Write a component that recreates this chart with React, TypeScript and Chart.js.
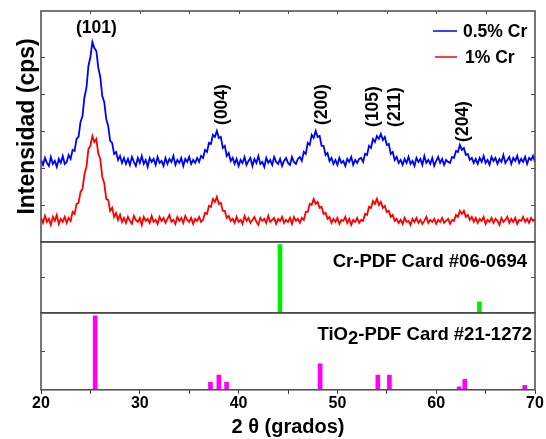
import React, { useEffect, useRef } from 'react';
import { Chart, registerables } from 'chart.js';

Chart.register(...registerables);

// Scan grid (2θ, degrees)
const TWO_THETA_START = 20;
const TWO_THETA_STEP = 0.2;

// Intensity (arbitrary units), one value per scan step
const CR05_COUNTS = [
  82, 77, 84, 79, 76, 85, 78, 81, 75, 83, 79, 86, 78,
  80, 87, 83, 92, 91, 103, 105, 120, 126, 145, 154, 176, 185, 200, 194, 191, 174, 165, 146, 140, 123, 116, 101, 99, 88, 90, 82, 86, 79,
  84, 78, 83, 77, 85, 80, 76, 84, 79, 86, 78, 82, 75, 84, 80, 83, 77, 85, 79, 81, 76, 84, 78, 83, 80, 86, 77, 82, 79, 84, 76, 83, 80, 85, 78, 82, 79, 84,
  80, 86, 84, 92, 90, 99, 98, 107, 105, 111, 104, 105, 94, 96, 86, 89, 81, 84,
  78, 83, 76, 82, 79, 85, 77, 81, 84, 76, 83, 79, 86, 78, 80, 75, 84, 79, 82, 77, 85, 80, 78, 83, 76, 81, 84, 79, 77, 85, 80, 78, 83,
  85, 81, 90, 88, 99, 97, 107, 104, 111, 105, 106, 96, 96, 87, 89, 81, 84,
  78, 82, 77, 84, 79, 81, 76, 83, 80, 85, 77, 82, 79, 83,
  84, 80, 88, 87, 96, 94, 103, 100, 106, 103, 108, 102, 105, 97, 98, 88, 90, 82, 85, 79,
  82, 77, 83, 79, 85, 78, 81, 76, 84, 80, 83, 77, 86, 79, 82, 78, 84, 76, 81, 85, 79, 83, 77, 82, 80,
  79, 85, 84, 91, 90, 97, 92, 94, 87, 88, 82, 84, 79,
  83, 78, 84, 80, 86, 79, 82, 77, 85, 81, 84, 78, 83, 80, 87, 79, 82, 85, 78, 84, 81, 86, 79, 83, 80, 85, 78, 84, 82, 86, 80,
];

const CR1_COUNTS = [
  24, 19, 26, 20, 23, 17, 25, 21, 27, 18, 23, 20, 25, 19, 24,
  21, 30, 28, 38, 39, 50, 53, 68, 75, 93, 96, 106, 100, 103, 88, 83, 65, 59, 43, 42, 31, 34, 25, 29, 22, 27, 20,
  24, 19, 25, 21, 18, 26, 22, 20, 24, 17, 25, 21, 23, 19, 26, 20, 22, 18, 25, 21, 24, 19, 23, 27, 20, 22, 18, 25, 21, 24, 19, 26, 22, 20, 24, 18, 23, 21, 25, 20,
  22, 29, 28, 36, 35, 43, 40, 45, 38, 39, 31, 31, 24, 26, 21,
  23, 19, 25, 20, 22, 18, 26, 21, 24, 19, 22, 25, 20, 17, 24, 21, 23, 19, 26, 20, 22, 24, 18, 23, 21, 25, 19, 22, 20, 24, 18, 25, 21, 23, 19, 24,
  22, 30, 30, 38, 37, 43, 38, 40, 34, 35, 28, 29, 23, 25,
  19, 23, 20, 24, 18, 22, 21, 25, 19, 23, 17, 22, 20, 24, 19, 22,
  21, 28, 27, 35, 34, 41, 38, 43, 37, 40, 34, 36, 30, 31, 25, 27, 21,
  23, 19, 22, 18, 24, 20, 21, 17, 23, 20, 24, 19, 22, 18, 21, 25, 19, 22, 20, 23, 18, 22, 20, 24, 19, 21, 23, 18, 22,
  21, 27, 25, 31, 28, 31, 25, 27, 22, 25,
  20, 24, 19, 23, 21, 25, 18, 22, 20, 24, 19, 23, 21, 17, 24, 20, 22, 25, 19, 23, 20, 24, 18, 22, 21, 25, 20, 23, 19, 24, 21, 23,
];

const SERIES_LABELS = ['0.5% Cr', '1% Cr'];

// Reference patterns
const CR_PDF_ANGLES = [44.39, 64.58];
const CR_PDF_INTENSITY = [100, 16];
const TIO2_PDF_ANGLES = [25.28, 36.95, 37.8, 38.58, 48.05, 53.89, 55.06, 62.12, 62.69, 68.76];
const TIO2_PDF_INTENSITY = [100, 10, 20, 10, 35, 20, 20, 4, 14, 6];

// Reflection labels
const PEAK_LABELS = ['(101)', '(004)', '(200)', '(105)', '(211)', '(204)'];
const PEAK_LABEL_ANGLES = [25.6, 38.25, 48.35, 53.5, 55.73, 62.6];

const FONT = "'Liberation Sans', Arial, Helvetica, sans-serif";
const BLUE = '#0000ff';
const RED = '#ff0000';
const GREEN = '#00ee00';
const MAGENTA = '#ff00ff';
const FRAME = '#4a4a4a';

function toPoints(values: number[]) {
  return values.map((v, i) => ({ x: TWO_THETA_START + i * TWO_THETA_STEP, y: v }));
}

const annotate = {
  id: 'xrdAnnotate',
  afterDatasetsDraw(chart: any) {
    const { ctx, chartArea, scales } = chart;
    const x = scales.x;
    const yMain = scales.yMain;
    const yCr = scales.yCr;
    const yTi = scales.yTi;
    ctx.save();

    // frames
    ctx.strokeStyle = FRAME;
    ctx.lineWidth = 1.5;
    [yMain, yCr, yTi].forEach((s: any) => {
      ctx.strokeRect(chartArea.left, s.top, chartArea.right - chartArea.left, s.bottom - s.top);
    });

    // inward ticks on left/right sides
    ctx.lineWidth = 1;
    [yMain, yCr, yTi].forEach((s: any) => {
      s.ticks.forEach((t: any) => {
        const py = Math.round(s.getPixelForValue(t.value)) + 0.5;
        if (py <= s.top + 2 || py >= s.bottom - 2) return;
        ctx.beginPath();
        ctx.moveTo(chartArea.left, py);
        ctx.lineTo(chartArea.left + 4, py);
        ctx.moveTo(chartArea.right, py);
        ctx.lineTo(chartArea.right - 4, py);
        ctx.stroke();
      });
    });
    // inward ticks on top edge
    x.ticks.forEach((t: any) => {
      const px = Math.round(x.getPixelForValue(t.value)) + 0.5;
      if (px <= chartArea.left + 2 || px >= chartArea.right - 2) return;
      ctx.beginPath();
      ctx.moveTo(px, chartArea.top);
      ctx.lineTo(px, chartArea.top + 3);
      ctx.stroke();
    });

    // reflection labels
    ctx.fillStyle = '#000';
    ctx.font = `bold 17.5px ${FONT}`;
    const labelLevels = [214, 117, 117, 115, 115, 100];
    PEAK_LABELS.forEach((lab, i) => {
      const px = x.getPixelForValue(PEAK_LABEL_ANGLES[i]);
      const py = yMain.getPixelForValue(labelLevels[i]);
      if (i === 0) {
        ctx.textAlign = 'center';
        ctx.textBaseline = 'middle';
        ctx.fillText(lab, px, py);
      } else {
        ctx.save();
        ctx.translate(px, py);
        ctx.rotate(-Math.PI / 2);
        ctx.textAlign = 'left';
        ctx.textBaseline = 'middle';
        ctx.fillText(lab, 0, 1);
        ctx.restore();
      }
    });

    // legend
    const ds = chart.data.datasets;
    const legendRows = [
      { y: 31, x0: 433, x1: 457, tx: 463 },
      { y: 57, x0: 435, x1: 457, tx: 465 },
    ];
    legendRows.forEach((r, i) => {
      ctx.strokeStyle = ds[i].borderColor;
      ctx.lineWidth = 1.5;
      ctx.beginPath();
      ctx.moveTo(r.x0, r.y);
      ctx.lineTo(r.x1, r.y);
      ctx.stroke();
      ctx.fillStyle = '#000';
      ctx.textAlign = 'left';
      ctx.textBaseline = 'middle';
      ctx.fillText(ds[i].label, r.tx, r.y + 1);
    });

    // reference card labels
    ctx.font = `bold 18.5px ${FONT}`;
    ctx.textBaseline = 'middle';
    ctx.textAlign = 'right';
    ctx.fillText('Cr-PDF Card #06-0694', chartArea.right - 8, (yCr.top + yCr.bottom) / 2 - 15);

    const tiY = yTi.top + 22;
    const rightX = chartArea.right - 3;
    const tail = '-PDF Card #21-1272';
    const head = 'TiO';
    const wTail = ctx.measureText(tail).width;
    const wSub = ctx.measureText('2').width;
    const wHead = ctx.measureText(head).width;
    ctx.textAlign = 'left';
    const startX = rightX - wTail - wSub - wHead;
    ctx.fillText(head, startX, tiY);
    ctx.fillText('2', startX + wHead, tiY + 4);
    ctx.fillText(tail, startX + wHead + wSub, tiY);

    ctx.restore();
  },
};

export default function App() {
  const canvasRef = useRef<HTMLCanvasElement | null>(null);

  useEffect(() => {
    if (!canvasRef.current) return;
    const chart = new Chart(canvasRef.current, {
      type: 'line',
      data: {
        datasets: [
          {
            label: SERIES_LABELS[0],
            data: toPoints(CR05_COUNTS),
            borderColor: BLUE,
            borderWidth: 1.8,
            pointRadius: 0,
            tension: 0,
            yAxisID: 'yMain',
          },
          {
            label: SERIES_LABELS[1],
            data: toPoints(CR1_COUNTS),
            borderColor: RED,
            borderWidth: 1.8,
            pointRadius: 0,
            tension: 0,
            yAxisID: 'yMain',
          },
          {
            type: 'bar',
            label: 'Cr-PDF #06-0694',
            data: CR_PDF_ANGLES.map((a, i) => ({ x: a, y: CR_PDF_INTENSITY[i] })),
            backgroundColor: GREEN,
            borderWidth: 0,
            barThickness: 4,
            yAxisID: 'yCr',
          } as any,
          {
            type: 'bar',
            label: 'TiO2-PDF #21-1272',
            data: TIO2_PDF_ANGLES.map((a, i) => ({ x: a, y: TIO2_PDF_INTENSITY[i] })),
            backgroundColor: MAGENTA,
            borderWidth: 0,
            barThickness: 4,
            yAxisID: 'yTi',
          } as any,
        ],
      },
      options: {
        responsive: false,
        animation: false,
        devicePixelRatio: 1,
        layout: { padding: { left: 13.4, right: 11, top: 11, bottom: 0 } },
        plugins: { legend: { display: false }, tooltip: { enabled: false } },
        scales: {
          x: {
            type: 'linear',
            min: 20,
            max: 70,
            offset: false,
            grid: { display: true, drawOnChartArea: false, drawTicks: true, tickLength: 4, color: '#333', offset: false },
            border: { display: false },
            ticks: {
              stepSize: 5,
              autoSkip: false,
              maxRotation: 0,
              padding: 0,
              color: '#000',
              font: { family: FONT, size: 16, weight: 'bold' },
              callback: (v: any) => (Number(v) % 10 === 0 ? String(v) : ''),
            },
            title: {
              display: true,
              text: '2 θ (grados)',
              color: '#000',
              font: { family: FONT, size: 20, weight: 'bold' },
              padding: { top: 2, bottom: 0 },
            },
          },
          yTi: {
            type: 'linear',
            position: 'left',
            stack: 'panels',
            stackWeight: 77,
            min: 0,
            max: 104,
            grid: { display: false, drawTicks: false },
            border: { display: false },
            ticks: { display: false, stepSize: 52 },
          },
          yCr: {
            type: 'linear',
            position: 'left',
            stack: 'panels',
            stackWeight: 71,
            min: 0,
            max: 104,
            grid: { display: false, drawTicks: false },
            border: { display: false },
            ticks: { display: false, stepSize: 52 },
          },
          yMain: {
            type: 'linear',
            position: 'left',
            stack: 'panels',
            stackWeight: 231,
            min: 0,
            max: 231,
            grid: { display: false, drawTicks: false },
            border: { display: false },
            ticks: { display: false, stepSize: 37 },
            title: {
              display: true,
              text: 'Intensidad (cps)',
              color: '#000',
              font: { family: FONT, size: 23, weight: 'bold' },
              padding: { top: 0, bottom: 0 },
            },
          },
        },
      } as any,
      plugins: [annotate],
    });
    return () => chart.destroy();
  }, []);

  return (
    <div style={{ position: 'fixed', left: 0, top: 0, width: 546, height: 439, background: '#fff' }}>
      <canvas ref={canvasRef} width={546} height={439} style={{ display: 'block' }} />
    </div>
  );
}
